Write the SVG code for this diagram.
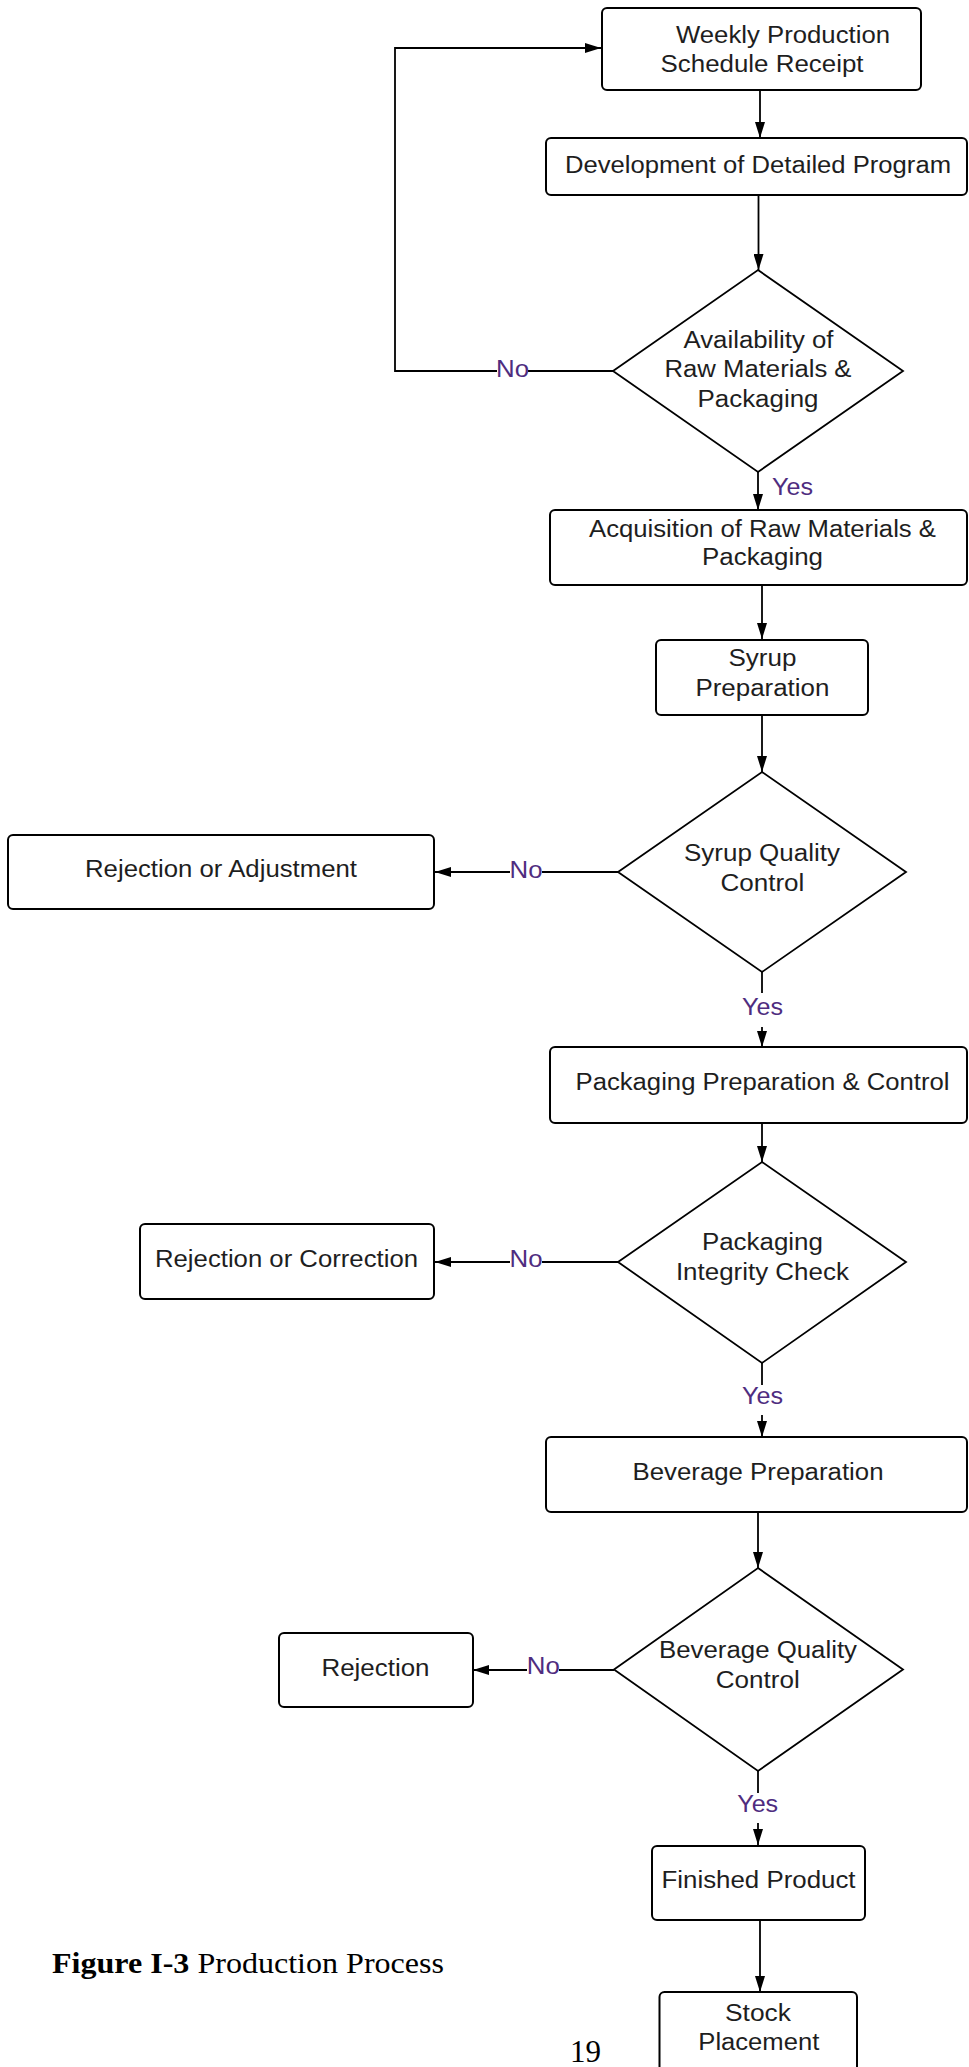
<svg xmlns="http://www.w3.org/2000/svg" width="969" height="2067" viewBox="0 0 969 2067">
<defs>
<marker id="ah" viewBox="0 0 16 10" refX="16" refY="5" markerWidth="16" markerHeight="10" markerUnits="userSpaceOnUse" orient="auto">
<path d="M0,0 L16,5 L0,10 z" fill="#000"/>
</marker>
<style>
.box{fill:#fff;stroke:#000;stroke-width:2}
.dia{fill:#fff;stroke:#000;stroke-width:1.8}
.t{font-family:"Liberation Sans",Arial,sans-serif;font-size:23.5px;fill:#1e1e1e;text-anchor:middle}
.lbl{font-family:"Liberation Sans",Arial,sans-serif;font-size:23.5px;fill:#4f2d7f;text-anchor:middle}
.c{fill:none;stroke:#000;stroke-width:1.8}
.ca{fill:none;stroke:#000;stroke-width:1.8;marker-end:url(#ah)}
.cap{font-family:"Liberation Serif","Times New Roman",serif;font-size:30px;fill:#000}
</style>
</defs>
<rect width="969" height="2067" fill="#fff"/>

<g id="connectors">
<path class="ca" d="M760,90 L760,138"/>
<path class="ca" d="M758.5,195 L758.5,270"/>
<path class="c" d="M613,371 L528,371"/>
<path class="ca" d="M497,371 L395,371 L395,48 L601,48"/>
<path class="ca" d="M758,472 L758,510"/>
<path class="ca" d="M762,585 L762,639"/>
<path class="ca" d="M762,715 L762,772"/>
<path class="c" d="M618,872 L542,872"/>
<path class="ca" d="M510,872 L435,872"/>
<path class="c" d="M762,972 L762,993"/>
<path class="ca" d="M762,1027 L762,1047"/>
<path class="ca" d="M762,1123 L762,1162"/>
<path class="c" d="M618,1262 L542,1262"/>
<path class="ca" d="M510,1262 L435,1262"/>
<path class="c" d="M762,1363 L762,1385"/>
<path class="ca" d="M762,1415 L762,1437"/>
<path class="ca" d="M758,1512 L758,1568"/>
<path class="c" d="M614,1670 L559,1670"/>
<path class="ca" d="M527,1670 L473,1670"/>
<path class="c" d="M758,1771 L758,1793"/>
<path class="ca" d="M758,1823 L758,1845"/>
<path class="ca" d="M760,1921 L760,1992"/>
<text class="lbl" x="512.5" y="377" textLength="33" lengthAdjust="spacingAndGlyphs">No</text>
<text class="lbl" x="792.5" y="495" textLength="41" lengthAdjust="spacingAndGlyphs">Yes</text>
<text class="lbl" x="526" y="877.5" textLength="33" lengthAdjust="spacingAndGlyphs">No</text>
<text class="lbl" x="762.5" y="1015" textLength="41" lengthAdjust="spacingAndGlyphs">Yes</text>
<text class="lbl" x="526" y="1267" textLength="33" lengthAdjust="spacingAndGlyphs">No</text>
<text class="lbl" x="762.5" y="1404" textLength="41" lengthAdjust="spacingAndGlyphs">Yes</text>
<text class="lbl" x="543.3" y="1673.5" textLength="33" lengthAdjust="spacingAndGlyphs">No</text>
<text class="lbl" x="757.7" y="1812.3" textLength="41" lengthAdjust="spacingAndGlyphs">Yes</text>
</g>

<g id="n1">
<rect class="box" x="602" y="8" width="319" height="82" rx="5"/>
<text class="t" x="783" y="43.3" textLength="214" lengthAdjust="spacingAndGlyphs">Weekly Production</text>
<text class="t" x="762" y="71.7" textLength="203" lengthAdjust="spacingAndGlyphs">Schedule Receipt</text>
</g>
<g id="n2">
<rect class="box" x="546" y="138" width="421" height="57" rx="5"/>
<text class="t" x="758" y="173.3" textLength="386" lengthAdjust="spacingAndGlyphs">Development of Detailed Program</text>
</g>
<g id="d1">
<polygon class="dia" points="758,270 903,371 758,472 613,371"/>
<text class="t" x="758.5" y="348.3" textLength="150" lengthAdjust="spacingAndGlyphs">Availability of</text>
<text class="t" x="758" y="377.3" textLength="187" lengthAdjust="spacingAndGlyphs">Raw Materials &amp;</text>
<text class="t" x="758" y="406.7" textLength="121" lengthAdjust="spacingAndGlyphs">Packaging</text>
</g>
<g id="n3">
<rect class="box" x="550" y="510" width="417" height="75" rx="5"/>
<text class="t" x="762.5" y="536.7" textLength="347" lengthAdjust="spacingAndGlyphs">Acquisition of Raw Materials &amp;</text>
<text class="t" x="762.5" y="565" textLength="121" lengthAdjust="spacingAndGlyphs">Packaging</text>
</g>
<g id="n4">
<rect class="box" x="656" y="640" width="212" height="75" rx="5"/>
<text class="t" x="762.4" y="666" textLength="68" lengthAdjust="spacingAndGlyphs">Syrup</text>
<text class="t" x="762.4" y="696" textLength="134" lengthAdjust="spacingAndGlyphs">Preparation</text>
</g>
<g id="d2">
<polygon class="dia" points="762,772 906,872 762,972 618,872"/>
<text class="t" x="762" y="860.7" textLength="156" lengthAdjust="spacingAndGlyphs">Syrup Quality</text>
<text class="t" x="762.4" y="890.7" textLength="84" lengthAdjust="spacingAndGlyphs">Control</text>
</g>
<g id="n5">
<rect class="box" x="8" y="835" width="426" height="74" rx="5"/>
<text class="t" x="221" y="876.7" textLength="272" lengthAdjust="spacingAndGlyphs">Rejection or Adjustment</text>
</g>
<g id="n6">
<rect class="box" x="550" y="1047" width="417" height="76" rx="5"/>
<text class="t" x="762.5" y="1090" textLength="374" lengthAdjust="spacingAndGlyphs">Packaging Preparation &amp; Control</text>
</g>
<g id="d3">
<polygon class="dia" points="762,1162 906,1262 762,1363 618,1262"/>
<text class="t" x="762.4" y="1250" textLength="121" lengthAdjust="spacingAndGlyphs">Packaging</text>
<text class="t" x="762.4" y="1280" textLength="173" lengthAdjust="spacingAndGlyphs">Integrity Check</text>
</g>
<g id="n7">
<rect class="box" x="140" y="1224" width="294" height="75" rx="5"/>
<text class="t" x="286.5" y="1267.3" textLength="263" lengthAdjust="spacingAndGlyphs">Rejection or Correction</text>
</g>
<g id="n8">
<rect class="box" x="546" y="1437" width="421" height="75" rx="5"/>
<text class="t" x="758" y="1480" textLength="251" lengthAdjust="spacingAndGlyphs">Beverage Preparation</text>
</g>
<g id="d4">
<polygon class="dia" points="758,1568 903,1669.5 758,1771 614,1669.5"/>
<text class="t" x="758" y="1658.3" textLength="198" lengthAdjust="spacingAndGlyphs">Beverage Quality</text>
<text class="t" x="757.7" y="1688.3" textLength="84" lengthAdjust="spacingAndGlyphs">Control</text>
</g>
<g id="n9">
<rect class="box" x="279" y="1633" width="194" height="74" rx="5"/>
<text class="t" x="375.5" y="1676" textLength="108" lengthAdjust="spacingAndGlyphs">Rejection</text>
</g>
<g id="n10">
<rect class="box" x="652" y="1846" width="213" height="74" rx="5"/>
<text class="t" x="758.5" y="1888.3" textLength="194" lengthAdjust="spacingAndGlyphs">Finished Product</text>
</g>
<g id="n11">
<rect class="box" x="659.5" y="1992" width="197.5" height="90" rx="5"/>
<text class="t" x="758" y="2020.7" textLength="66" lengthAdjust="spacingAndGlyphs">Stock</text>
<text class="t" x="758.8" y="2050" textLength="121" lengthAdjust="spacingAndGlyphs">Placement</text>
</g>

<g id="caption">
<text class="cap" x="52" y="1973.3" textLength="392" lengthAdjust="spacingAndGlyphs"><tspan font-weight="bold">Figure I-3</tspan> Production Process</text>
<text class="cap" x="570" y="2061.7" style="font-size:31px">19</text>
</g>
</svg>
